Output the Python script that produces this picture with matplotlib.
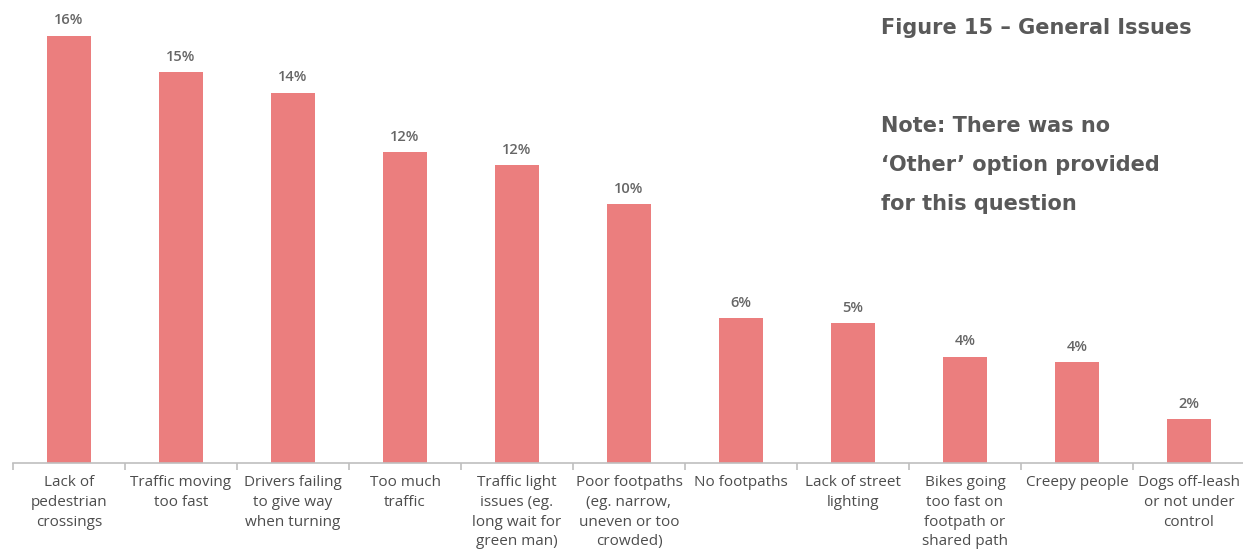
import matplotlib
matplotlib.use("Agg")
import matplotlib.pyplot as plt
import numpy as np

categories = [
    "Lack of\npedestrian\ncrossings",
    "Traffic moving\ntoo fast",
    "Drivers failing\nto give way\nwhen turning",
    "Too much\ntraffic",
    "Traffic light\nissues (eg.\nlong wait for\ngreen man)",
    "Poor footpaths\n(eg. narrow,\nuneven or too\ncrowded)",
    "No footpaths",
    "Lack of street\nlighting",
    "Bikes going\ntoo fast on\nfootpath or\nshared path",
    "Creepy people",
    "Dogs off-leash\nor not under\ncontrol",
]
values = [16.5, 15.1, 14.3, 12.0, 11.5, 10.0, 5.6, 5.4, 4.1, 3.9, 1.7]
value_labels = ["16%", "15%", "14%", "12%", "12%", "10%", "6%", "5%", "4%", "4%", "2%"]

plt.rcParams['font.family'] = ['Open Sans', 'DejaVu Sans']

W, H = 1243, 549
fig = plt.figure(figsize=(W / 100, H / 100), dpi=100)
ax = fig.add_axes([13 / W, 86 / H, 1232 / W, 463 / H])

x = np.arange(len(values))
ax.bar(x, values, width=0.4, color="#EB7E7E", zorder=2)
ax.set_xlim(-0.5, len(values) - 0.5)
ax.set_ylim(0, 463 / 25.9)

for xi, v, lab in zip(x, values, value_labels):
    ax.annotate(lab, (xi, v), xytext=(0, 6), textcoords="offset points",
                ha="center", va="bottom", fontsize=10.5, fontweight="semibold",
                color="#666666")

for s in ["top", "right", "left"]:
    ax.spines[s].set_visible(False)
ax.spines["bottom"].set_color("#BFBFBF")
ax.spines["bottom"].set_linewidth(1.2)
ax.set_yticks([])

ax.set_xticks(x)
ax.set_xticklabels(categories, fontsize=11, color="#4D4D4D", linespacing=1.42)
ax.tick_params(axis="x", length=0, pad=9)
ax.set_xticks(np.arange(len(values) + 1) - 0.5, minor=True)
ax.tick_params(axis="x", which="minor", length=5, color="#BFBFBF", width=1.2)

head_font = ['DejaVu Sans']
fig.text(881 / W, 1 - 28 / H, "Figure 15 \u2013 General Issues", fontsize=15,
         fontweight="bold", color="#595959", ha="left", va="center", family=head_font)
fig.text(881 / W, 1 - 116 / H, "Note: There was no\n\u2018Other\u2019 option provided\nfor this question",
         fontsize=15, fontweight="bold", color="#595959", ha="left", va="top",
         linespacing=2.2, family=head_font)

fig.savefig("out.png", dpi=100)
